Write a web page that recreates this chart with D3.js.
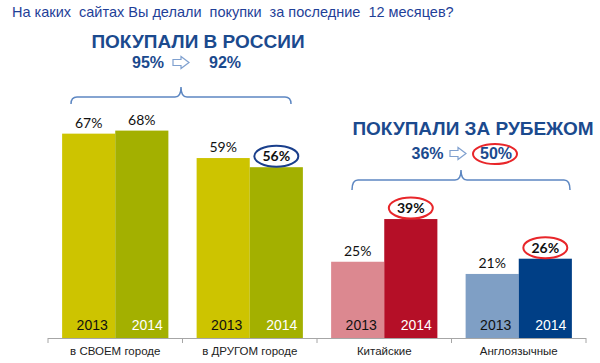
<!DOCTYPE html>
<html><head><meta charset="utf-8">
<script src="https://cdn.jsdelivr.net/npm/d3@7"></script>
<style>
body{margin:0;background:#fff;}
svg{display:block;}
text{font-family:"Liberation Sans",Arial,sans-serif;}
</style></head>
<body>
<svg id="c" width="600" height="363"></svg>
<script>
const categories = ["в СВОЕМ городе", "в ДРУГОМ городе", "Китайские", "Англоязычные"];
const years = ["2013", "2014"];
const values2013 = [67, 59, 25, 21];
const values2014 = [68, 56, 39, 26];
const colors2013 = ["#cdc400", "#cdc400", "#dc8890", "#7f9fc5"];
const colors2014 = ["#a3b000", "#a3b000", "#b50f27", "#003f86"];
const yearTextColors = ["#111", "#fff"];
const circled = [[false,false],[false,true],[false,true],[false,true]];
const circleColors = ["#1a3f8c", "#e8262a"];
const title = "На каких  сайтах Вы делали  покупки  за последние  12 месяцев?";
const headers = ["ПОКУПАЛИ В РОССИИ", "ПОКУПАЛИ ЗА РУБЕЖОМ"];
const totalsFrom = ["95%", "36%"];
const totalsTo = ["92%", "50%"];
const totalsCircled = [false, true];

const svg = d3.select("#c");
const x = d3.scaleBand().domain(categories).range([48, 586]).paddingInner(0.21).paddingOuter(0.105);
const x1 = d3.scaleBand().domain(years).range([0, x.bandwidth()]);
const y = d3.scaleLinear().domain([0, 100]).range([338, 33]);

const darkBlue = "#1b4a8e";

svg.append("text").attr("x", 12).attr("y", 17).attr("fill", "#1f3f98")
  .attr("font-size", 14.5).style("white-space", "pre").text(title);

const rows = categories.map((c, i) => ({c, i, vals: [values2013[i], values2014[i]]}));
const g = svg.append("g");
rows.forEach(r => {
  r.vals.forEach((v, j) => {
    const bx = x(r.c) + x1(years[j]);
    const bw = x1.bandwidth();
    g.append("rect").attr("x", bx).attr("y", y(v)).attr("width", bw).attr("height", y(0) - y(v))
      .attr("fill", j === 0 ? colors2013[r.i] : colors2014[r.i]);
    g.append("text").attr("x", bx + bw / 2 + (j === 0 ? 3.5 : 5.5)).attr("y", 330)
      .attr("text-anchor", "middle").attr("font-size", 14).attr("fill", yearTextColors[j]).text(years[j]);
    const isC = circled[r.i][j];
    g.append("text").attr("x", bx + bw / 2).attr("y", y(v) - 6)
      .attr("text-anchor", "middle").attr("font-size", 14).attr("fill", "#111")
      .attr("font-weight", isC ? "bold" : "normal")
      .style("font-family", "Lato, 'Open Sans', sans-serif").text(v + "%");
    if (isC) {
      g.append("ellipse").attr("cx", bx + bw / 2).attr("cy", y(v) - 11).attr("rx", 22).attr("ry", 10.5)
        .attr("fill", "none").attr("stroke", r.i === 1 ? circleColors[0] : circleColors[1]).attr("stroke-width", 2);
    }
  });
});

// axis
const ax = svg.append("g");
ax.append("line").attr("x1", x.range()[0]).attr("x2", x.range()[1]).attr("y1", 338.5).attr("y2", 338.5)
  .attr("stroke", "#a6a6a6");
const bounds = categories.map(c => x(c) - x.step() * x.paddingInner() / 2);
bounds.push(x.range()[1]);
bounds[0] = x.range()[0];
bounds.forEach(b => ax.append("line").attr("x1", b).attr("x2", b).attr("y1", 338).attr("y2", 343).attr("stroke", "#a6a6a6"));
const axis = d3.axisBottom(x).tickSize(0).tickPadding(0);
const axg = svg.append("g").attr("transform", "translate(0,347)").call(axis);
axg.select(".domain").remove();
axg.selectAll("text").attr("font-size", 11.5).attr("fill", "#222").attr("font-family", null);

// headers
function arrow(gx, ax0, ay) {
  const w = 16, h = 11;
  gx.append("path").attr("d",
    `M${ax0},${ay - 3} L${ax0 + 8},${ay - 3} L${ax0 + 8},${ay - h/2 - 0.5} L${ax0 + w},${ay} L${ax0 + 8},${ay + h/2 + 0.5} L${ax0 + 8},${ay + 3} L${ax0},${ay + 3} Z`)
    .attr("fill", "#fff").attr("stroke", "#7fa0cf").attr("stroke-width", 1.2);
}
function brace(gx, xa, xb, xc, yt, yl, yb) {
  const r = 6;
  gx.append("path").attr("d",
    `M${xa},${yb} Q${xa},${yl} ${xa + r},${yl} L${xc - r},${yl} Q${xc},${yl} ${xc},${yt} Q${xc},${yl} ${xc + r},${yl} L${xb - r},${yl} Q${xb},${yl} ${xb},${yb}`)
    .attr("fill", "none").attr("stroke", "#5d87c2").attr("stroke-width", 1.5);
}
const hdr = [
  {hx: 198, hy: 48, fx: 148, tx: 225, ty: 68, axp: 173, bx: [71, 291, 181], by: [87, 97, 104]},
  {hx: 473, hy: 135, fx: 427.5, tx: 496, ty: 159, axp: 450, bx: [352, 570, 461], by: [170, 180, 190]}
];
hdr.forEach((h, i) => {
  const hg = svg.append("g");
  hg.append("text").attr("x", h.hx).attr("y", h.hy).attr("text-anchor", "middle")
    .attr("font-size", 19).attr("font-weight", "bold").attr("fill", darkBlue).text(headers[i]);
  hg.append("text").attr("x", h.fx).attr("y", h.ty).attr("text-anchor", "middle")
    .attr("font-size", 16).attr("font-weight", "bold").attr("fill", darkBlue).text(totalsFrom[i]);
  arrow(hg, h.axp, h.ty - 5.5);
  hg.append("text").attr("x", h.tx).attr("y", h.ty).attr("text-anchor", "middle")
    .attr("font-size", 16).attr("font-weight", "bold").attr("fill", darkBlue).text(totalsTo[i]);
  if (totalsCircled[i]) {
    hg.append("ellipse").attr("cx", h.tx - 1).attr("cy", h.ty - 5).attr("rx", 22).attr("ry", 10)
      .attr("fill", "none").attr("stroke", circleColors[1]).attr("stroke-width", 2);
  }
  brace(hg, h.bx[0], h.bx[1], h.bx[2], h.by[0], h.by[1], h.by[2]);
});
</script>
</body></html>
